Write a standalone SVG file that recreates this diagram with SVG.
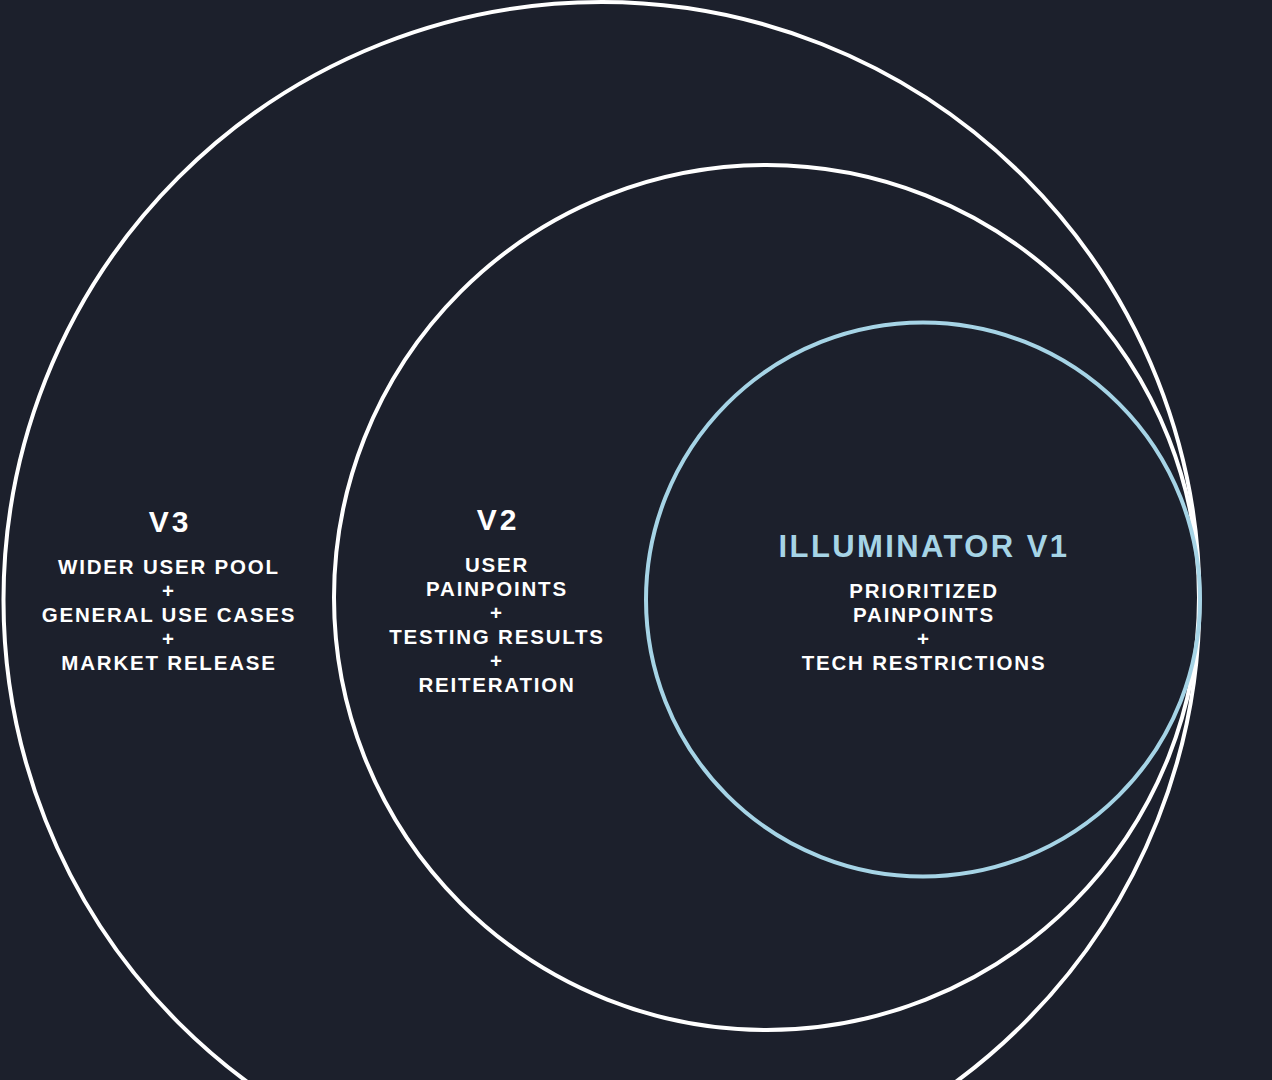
<svg xmlns="http://www.w3.org/2000/svg" width="1272" height="1080" viewBox="0 0 1272 1080">
<style>
.ring{fill:none;stroke:#ffffff;stroke-width:4}
.ring1{fill:none;stroke:#a6d4e6;stroke-width:4}
text{font-family:"Liberation Sans",Arial,sans-serif;font-weight:bold;text-anchor:middle}
.t{font-size:30px;fill:#ffffff;letter-spacing:3px}
.t1{font-size:31px;fill:#a6d4e6;letter-spacing:2.4px}
.b{font-size:20.5px;fill:#ffffff;letter-spacing:1.8px}
</style>
<rect width="1272" height="1080" fill="#1c202c"/>
<g id="v3">
<circle class="ring" cx="601.5" cy="600" r="598"/>
<text class="t" x="170" y="532">V3</text>
<text class="b" x="169" y="574">WIDER USER POOL</text>
<text class="b" x="169" y="598">+</text>
<text class="b" x="169" y="622">GENERAL USE CASES</text>
<text class="b" x="169" y="646">+</text>
<text class="b" x="169" y="670">MARKET RELEASE</text>
</g>
<g id="v2">
<circle class="ring" cx="766.5" cy="597.5" r="432.5"/>
<text class="t" x="498" y="530">V2</text>
<text class="b" x="497" y="572">USER</text>
<text class="b" x="497" y="596">PAINPOINTS</text>
<text class="b" x="497" y="620">+</text>
<text class="b" x="497" y="644">TESTING RESULTS</text>
<text class="b" x="497" y="668">+</text>
<text class="b" x="497" y="692">REITERATION</text>
</g>
<g id="v1">
<circle class="ring1" cx="923" cy="599.5" r="277"/>
<text class="t1" x="924" y="557">ILLUMINATOR V1</text>
<text class="b" x="924" y="598">PRIORITIZED</text>
<text class="b" x="924" y="622">PAINPOINTS</text>
<text class="b" x="924" y="646">+</text>
<text class="b" x="924" y="670">TECH RESTRICTIONS</text>
</g>
<g id="connectors"></g>
</svg>
